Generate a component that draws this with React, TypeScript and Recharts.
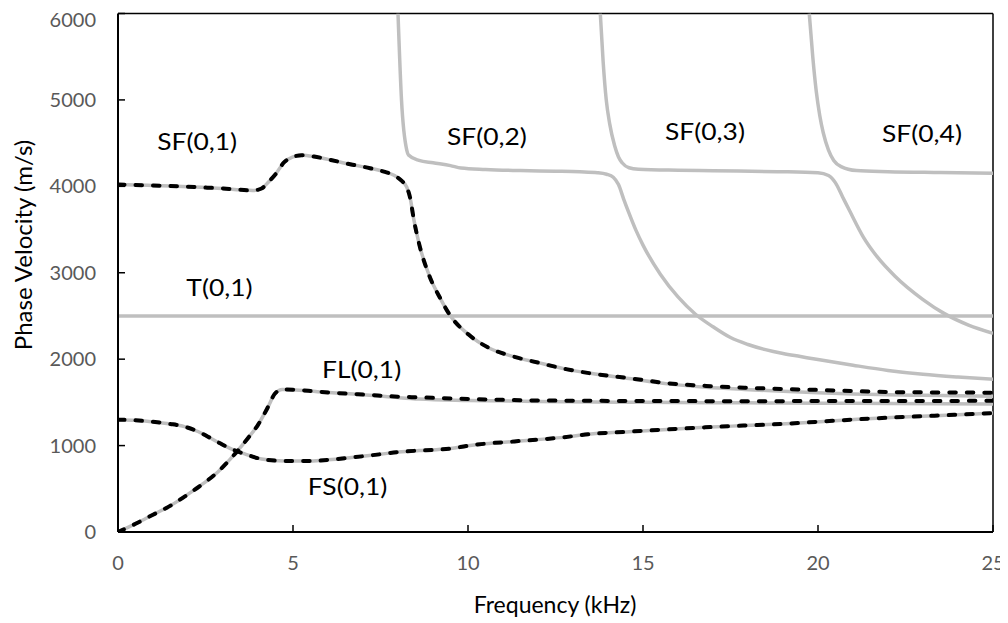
import React from "react";
import {
  LineChart,
  Line,
  XAxis,
  YAxis,
  ReferenceLine,
  ReferenceDot,
  Label,
} from "recharts";

type Pt = { f: number; v: number };
const pts = (rows: number[][]): Pt[] => rows.map(([f, v]) => ({ f, v }));

// Frequency (kHz) vs phase velocity (m/s)
const xTicks = [0, 5, 10, 15, 20, 25];
const yTicks = [0, 1000, 2000, 3000, 4000, 5000, 6000];

// Model curves (solid grey)
const sf01Model = pts([
  [0, 4020], [0.5, 4015], [1, 4010], [1.5, 4004], [2, 3996], [2.5, 3986], [3, 3975],
  [3.5, 3960], [3.85, 3952], [4.1, 3975], [4.3, 4050], [4.5, 4140], [4.75, 4280],
  [5.0, 4340], [5.25, 4360], [5.6, 4345], [6.0, 4312], [6.7, 4250], [7.2, 4210],
  [7.6, 4170], [7.9, 4125], [8.1, 4065], [8.25, 3990], [8.35, 3860], [8.45, 3620],
  [8.6, 3340], [8.9, 2960], [9.2, 2710], [9.5, 2500], [10.0, 2290], [10.6, 2130],
  [11.3, 2030], [12.0, 1960], [12.8, 1885], [13.5, 1836], [14.6, 1776], [15.7, 1714],
  [16.8, 1676], [17.9, 1650], [19.0, 1628], [20.0, 1611], [21.0, 1598], [22.0, 1589],
  [23.0, 1582], [24.0, 1577], [25.0, 1572],
]);
const flModel = pts([
  [0, 0], [0.5, 95], [1.0, 200], [1.5, 305], [1.9, 409], [2.4, 550], [2.86, 698],
  [3.2, 840], [3.45, 955], [3.7, 1080], [4.0, 1240], [4.29, 1450], [4.48, 1600],
  [4.7, 1650], [5.0, 1647], [5.7, 1624], [6.5, 1602], [7.1, 1586], [8.0, 1555],
  [8.6, 1538], [10.0, 1522], [12.0, 1510], [15.0, 1501], [18.0, 1495], [20.0, 1491],
  [22.0, 1487], [25.0, 1481],
]);
const fsModel = pts([
  [0, 1300], [0.5, 1292], [0.95, 1277], [1.5, 1250], [1.9, 1219], [2.3, 1160],
  [2.57, 1103], [2.9, 1030], [3.14, 980], [3.4, 935], [3.62, 903], [4.1, 845],
  [4.76, 822], [5.5, 822], [6.0, 835], [6.67, 862], [7.5, 900], [8.0, 925],
  [8.6, 942], [9.0, 950], [9.5, 965], [10.0, 998], [10.5, 1022], [11.33, 1048],
  [12.64, 1092], [13.51, 1134], [14.6, 1161], [15.69, 1187], [16.78, 1211],
  [17.87, 1231], [18.96, 1250], [20.05, 1277], [21.14, 1304], [22.23, 1327],
  [23.33, 1346], [25.0, 1376],
]);
const t01Model = pts([
  [0, 2500], [25, 2500],
]);
const sf02Model = pts([
  [8.0, 6000], [8.1, 5000], [8.25, 4420], [8.3, 4363], [8.6, 4300], [9.0, 4272],
  [9.5, 4240], [9.8, 4212], [10.5, 4195], [11.5, 4182], [12.5, 4175], [13.2, 4168],
  [13.7, 4158], [13.96, 4140], [14.15, 4105], [14.3, 4020], [14.45, 3850],
  [14.6, 3690], [14.8, 3490], [15.0, 3320], [15.5, 2980], [16.0, 2720], [16.5, 2520],
  [17.0, 2375], [17.5, 2250], [18.0, 2170], [18.5, 2110], [19.0, 2065], [19.5, 2030],
  [20.0, 1995], [21.0, 1930], [22.0, 1870], [23.0, 1825], [24.0, 1793], [25.0, 1767],
]);
const sf03Model = pts([
  [13.78, 6000], [13.86, 5450], [13.95, 5000], [14.05, 4720], [14.19, 4470],
  [14.3, 4340], [14.41, 4270], [14.6, 4215], [14.87, 4198], [16.0, 4186],
  [17.0, 4180], [18.84, 4170], [20.0, 4158], [20.3, 4125], [20.5, 4040],
  [20.7, 3880], [20.9, 3720], [21.3, 3410], [21.7, 3180], [22.2, 2960],
  [23.0, 2690], [23.6, 2530], [24.3, 2395], [25.0, 2300],
]);
const sf04Model = pts([
  [19.75, 6000], [19.85, 5500], [19.95, 5100], [20.05, 4820], [20.15, 4620],
  [20.3, 4420], [20.45, 4300], [20.66, 4228], [21.1, 4182], [22.0, 4170],
  [23.5, 4160], [25.0, 4151],
]);

// Measured curves (black dashed)
const sf01Meas = pts([
  [0, 4020], [0.5, 4015], [1, 4010], [1.5, 4004], [2, 3996], [2.5, 3986], [3, 3975],
  [3.5, 3960], [3.85, 3952], [4.1, 3975], [4.3, 4050], [4.5, 4140], [4.75, 4280],
  [5.0, 4340], [5.25, 4360], [5.6, 4345], [6.0, 4312], [6.7, 4250], [7.2, 4210],
  [7.6, 4170], [7.9, 4125], [8.1, 4065], [8.25, 3990], [8.35, 3860], [8.45, 3620],
  [8.6, 3340], [8.9, 2960], [9.2, 2710], [9.5, 2500], [10.0, 2290], [10.6, 2130],
  [11.3, 2030], [12.0, 1960], [12.8, 1885], [13.5, 1836], [14.6, 1780], [15.7, 1722],
  [16.8, 1690], [17.9, 1670], [19.0, 1655], [20.0, 1644], [21.0, 1631], [22.0, 1620],
  [23.0, 1616], [24.0, 1614], [25.0, 1612],
]);
const flMeas = pts([
  [0, 0], [0.5, 95], [1.0, 200], [1.5, 305], [1.9, 409], [2.4, 550], [2.86, 698],
  [3.2, 840], [3.45, 955], [3.7, 1080], [4.0, 1240], [4.29, 1450], [4.48, 1600],
  [4.7, 1650], [5.0, 1647], [5.7, 1624], [6.5, 1602], [7.1, 1588], [8.0, 1566],
  [8.6, 1558], [10.0, 1540], [12.0, 1522], [15.0, 1516], [18.0, 1514], [20.0, 1515],
  [22.0, 1516], [25.0, 1518],
]);
const fsMeas = fsModel;

// Mode annotations, placed in data coordinates
const modeNames = ["SF(0,1)", "SF(0,2)", "SF(0,3)", "SF(0,4)", "T(0,1)", "FL(0,1)", "FS(0,1)"];
const modeLabelF = [2.26, 10.54, 16.77, 22.97, 2.9, 6.96, 6.56];
const modeLabelV = [4525, 4583, 4641, 4618, 2836, 1887, 544];

const GREY = "#BFBFBF";
const FONT = "Lato, 'Open Sans', sans-serif";

const ModeText = (props: any) => {
  const { viewBox, value } = props;
  const cx = viewBox.x + (viewBox.width || 0) / 2;
  const cy = viewBox.y + (viewBox.height || 0) / 2;
  return (
    <text
      x={0}
      y={0}
      transform={`translate(${cx} ${cy}) scale(1.1 1)`}
      textAnchor="middle"
      dominantBaseline="central"
      fontFamily={FONT}
      fontSize={24}
      fill="#000"
    >
      {value}
    </text>
  );
};

const modelSeries = [sf01Model, flModel, fsModel, t01Model, sf02Model, sf03Model, sf04Model];
const measSeries = [sf01Meas, flMeas, fsMeas];

export default function App() {
  return (
    <div style={{ width: 1000, height: 615 }}>
      <LineChart
        width={1000}
        height={615}
        margin={{ top: 5.5, right: 15, left: 0, bottom: 0 }}
      >
        <XAxis
          type="number"
          dataKey="f"
          domain={[0, 25]}
          ticks={xTicks}
          allowDataOverflow
          height={91}
          axisLine={{ stroke: "#000", strokeWidth: 2 }}
          tickLine={{ stroke: "#000", strokeWidth: 1.5 }}
          tickSize={-7}
          tickMargin={31}
          tick={{ fill: "#595959", fontSize: 20, fontFamily: FONT }}
        >
          <Label
            content={() => (
              <text
                x={547}
                y={596}
                textAnchor="middle"
                dominantBaseline="central"
                fontFamily={FONT}
                fontSize={23}
                fill="#000"
              >
                Frequency (kHz)
              </text>
            )}
          />
        </XAxis>
        <YAxis
          type="number"
          domain={[0, 6000]}
          ticks={yTicks}
          allowDataOverflow
          width={110}
          axisLine={{ stroke: "#000", strokeWidth: 2 }}
          tickLine={{ stroke: "#000", strokeWidth: 1.5 }}
          tickSize={-7}
          tickMargin={29}
          tick={{ fill: "#595959", fontSize: 20, fontFamily: FONT }}
        >
          <Label
            content={() => (
              <text
                x={14}
                y={237}
                transform="rotate(-90 14 237)"
                textAnchor="middle"
                dominantBaseline="central"
                fontFamily={FONT}
                fontSize={24}
                fill="#000"
              >
                Phase Velocity (m/s)
              </text>
            )}
          />
        </YAxis>
        <ReferenceLine y={6000} stroke="#000" strokeWidth={1.5} />
        <ReferenceLine x={25} stroke="#000" strokeWidth={1.5} />
        {modelSeries.map((d, i) => (
          <Line
            key={`m${i}`}
            data={d}
            dataKey="v"
            type="monotone"
            stroke={GREY}
            strokeWidth={3.5}
            dot={false}
            activeDot={false}
            isAnimationActive={false}
          />
        ))}
        {measSeries.map((d, i) => (
          <Line
            key={`e${i}`}
            data={d}
            dataKey="v"
            type="monotone"
            stroke="#000"
            strokeWidth={4}
            strokeDasharray="6.5 11"
            strokeLinecap="round"
            dot={false}
            activeDot={false}
            isAnimationActive={false}
          />
        ))}
        {modeNames.map((name, i) => (
          <ReferenceDot
            key={name}
            x={modeLabelF[i]}
            y={modeLabelV[i]}
            r={0}
            fill="none"
            stroke="none"
            label={<ModeText value={name} />}
          />
        ))}
      </LineChart>
    </div>
  );
}
